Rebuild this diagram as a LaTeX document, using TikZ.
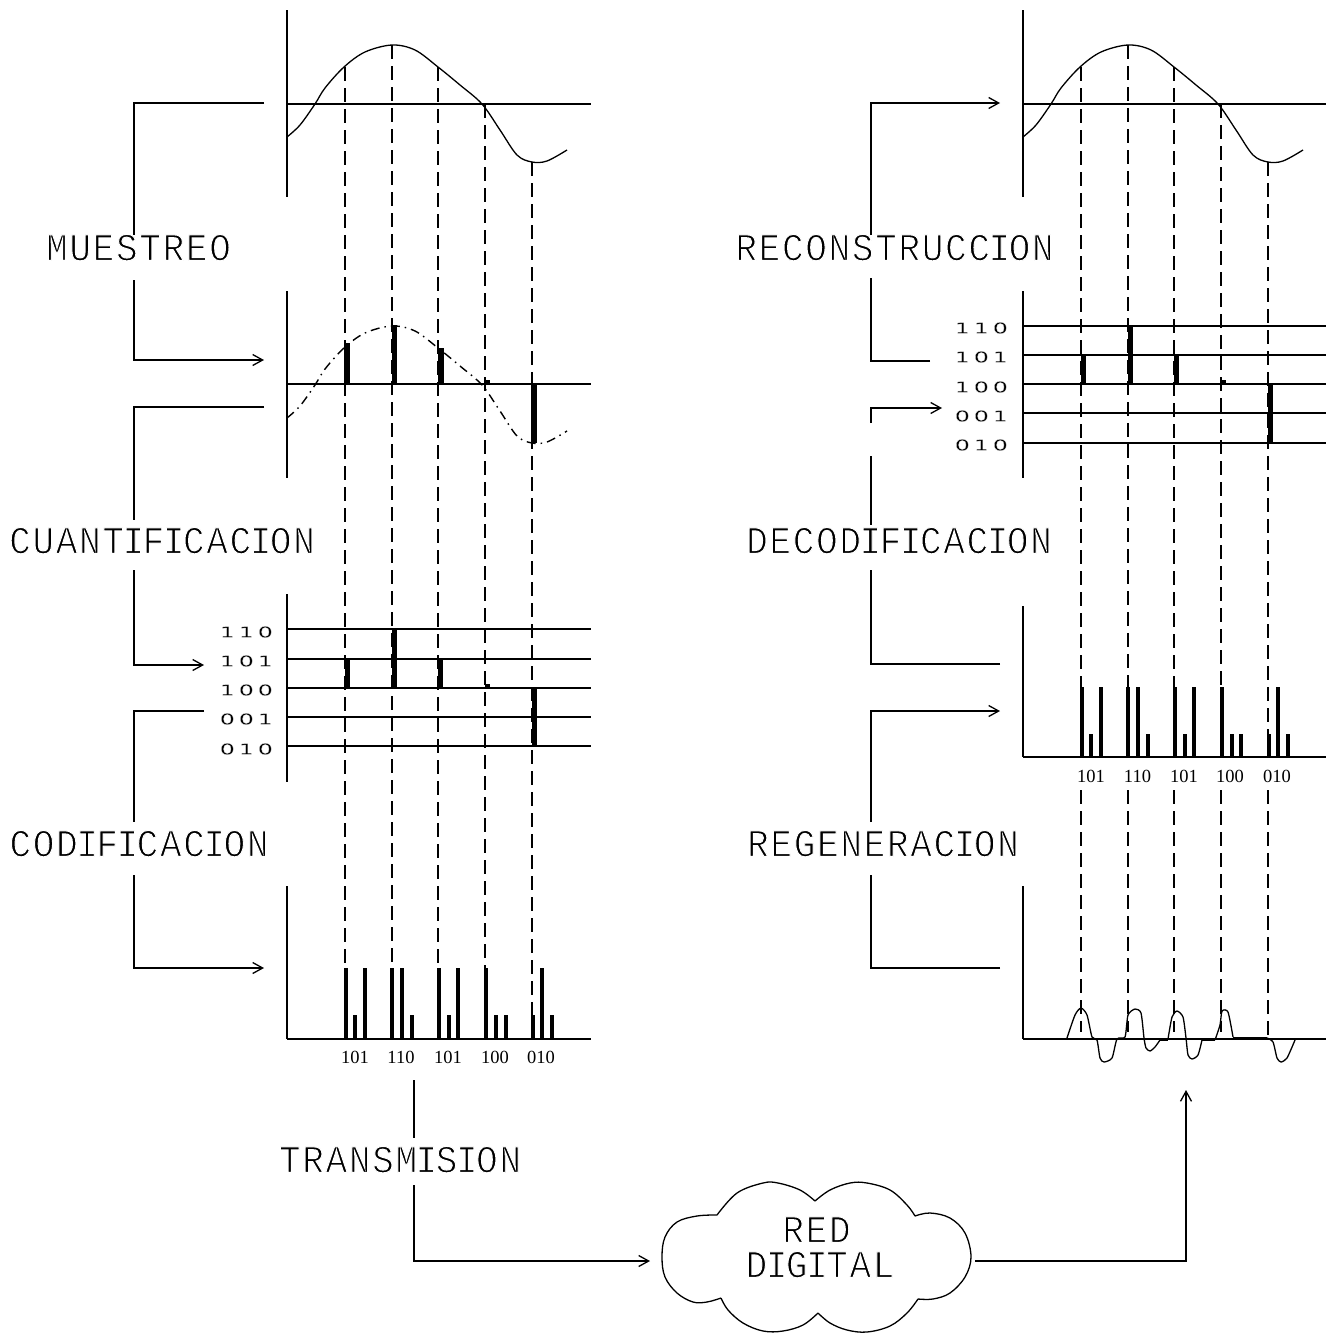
\documentclass[tikz,border=0pt]{standalone}
\usepackage{fontspec}
\usepackage{graphicx}
\usetikzlibrary{arrows.meta}
\newfontfamily\cadfont{Liberation Mono}
\newfontfamily\binfont{DejaVu Sans}
\newfontfamily\smallfont{Liberation Serif}
% thin-stroke text: glyphs are filled, then trimmed by a white outline
\newcommand\thinon[1]{\special{pdf:code 2 Tr 1 1 1 RG #1 w}}
\def\capbox#1{\ifx#1I\makebox[17pt]{\scalebox{.92}[1]{\thinon{1.05}#1}}\else\makebox[23.3pt]{\scalebox{.92}[1]{\thinon{1.05}#1}}\fi}
\def\cadloop#1{\ifx#1\relax\else\capbox{#1}\expandafter\cadloop\fi}
\newcommand\cadtext[1]{\cadloop#1\relax}
\def\digbox#1{\makebox[19pt]{\scalebox{1.6}[1]{\thinon{.2}#1}}}
\def\digloop#1{\ifx#1\relax\else\digbox{#1}\expandafter\digloop\fi}
\newcommand\bintext[1]{\digloop#1\relax}
\tikzset{
  lab/.style={inner sep=0pt,text height=26pt,text depth=0pt,font=\cadfont\fontsize{39}{39}\selectfont},
  binlab/.style={inner sep=0pt,anchor=east,font=\binfont\fontsize{15}{15}\selectfont},
  small/.style={inner sep=0pt,font=\smallfont\fontsize{18.5}{18.5}\selectfont},
  axis/.style={line width=1.7pt},
  conn/.style={line width=1.5pt},
  arr/.style={line width=1.5pt,-{Straight Barb[length=10pt,width=11pt,line width=1.3pt]}},
  curve/.style={line width=1.3pt},
  dotcurve/.style={line width=1.4pt,dash pattern=on 9pt off 5pt on 1.5pt off 5pt},
  guide/.style={line width=1.4pt,dash pattern=on 14pt off 7pt},
  bar/.style={fill=black,draw=none},
}
\begin{document}
\begin{tikzpicture}[x=1pt,y=-1pt]
\useasboundingbox (0,0) rectangle (1326,1333);
\fill[white] (0,0) rectangle (1326,1333);
% sine waves
\def\sinepts#1#2{plot[smooth,tension=.55] coordinates {(287+#1,137+#2)(300+#1,125+#2)(315+#1,104+#2)(325+#1,88+#2)(344+#1,67+#2)(365+#1,52+#2)(392+#1,45+#2)(415+#1,50+#2)(438+#1,67+#2)(460+#1,85+#2)(482+#1,104+#2)(500+#1,130+#2)(517+#1,155+#2)(532+#1,162+#2)(547+#1,161+#2)(567+#1,150+#2)}}
% LEFT COLUMN ------------------------------------------------
\draw[axis] (286.7,10) -- (286.7,197);
\draw[axis] (286.7,104) -- (591,104);
\draw[curve] \sinepts{0}{0};
\draw[axis] (286.7,291) -- (286.7,478);
\draw[axis] (286.7,384) -- (591,384);
\draw[dotcurve] \sinepts{0}{281};
\fill[bar] (344,343) rectangle (349.5,384);
\fill[bar] (391.5,325) rectangle (396.5,384);
\fill[bar] (438,348) rectangle (443.5,384);
\fill[bar] (485,380) rectangle (490,384);
\fill[bar] (531,384) rectangle (536.5,443);
\draw[axis] (286.7,594) -- (286.7,782);
\foreach \y in {629,659,688,717,746} \draw[axis] (286.7,\y) -- (591,\y);
\fill[bar] (344.5,659) rectangle (349.5,688);
\fill[bar] (391.5,629) rectangle (396.5,688);
\fill[bar] (438,659) rectangle (443,688);
\fill[bar] (485,684) rectangle (490,688);
\fill[bar] (531.5,688) rectangle (536.5,746);
\node[binlab] (l110) at (275,632) {\bintext{110}};
\node[binlab] (l101) at (275,661) {\bintext{101}};
\node[binlab] (l100) at (275,690) {\bintext{100}};
\node[binlab] (l001) at (275,719) {\bintext{001}};
\node[binlab] (l010) at (275,749) {\bintext{010}};
\draw[axis] (286.7,886) -- (286.7,1039);
\draw[axis] (286.7,1039) -- (591,1039);
\foreach \x/\t in {346/968,355/1015,365/968,392/968,402/968,412/1015,439/968,449/1015,458/968,486/968,496/1015,506/1015,533/1015,542/968,552/1015}
  \fill[bar] (\x-2,\t) rectangle (\x+2,1039);
\node[small] (a1) at (355,1057) {101};
\node[small] (a2) at (401,1057) {110};
\node[small] (a3) at (448,1057) {101};
\node[small] (a4) at (495,1057) {100};
\node[small] (a5) at (541,1057) {010};
% dashed guides, left
\draw[guide] (345,67) -- (345,968);
\draw[guide] (392,45) -- (392,968);
\draw[guide] (438,67) -- (438,968);
\draw[guide] (485,104) -- (485,968);
\draw[guide] (532,162) -- (532,1015);
% RIGHT COLUMN ------------------------------------------------
\draw[axis] (1022.7,10) -- (1022.7,197);
\draw[axis] (1022.7,104) -- (1326,104);
\draw[curve] \sinepts{736}{0};
\draw[axis] (1022.7,291) -- (1022.7,478);
\foreach \y in {326,355,384,413,443} \draw[axis] (1022.7,\y) -- (1326,\y);
\fill[bar] (1081,355) rectangle (1086,384);
\fill[bar] (1128,326) rectangle (1133,384);
\fill[bar] (1174,355) rectangle (1179,384);
\fill[bar] (1221,380) rectangle (1226,384);
\fill[bar] (1268,384) rectangle (1273,443);
\node[binlab] (r110) at (1010,328) {\bintext{110}};
\node[binlab] (r101) at (1010,357) {\bintext{101}};
\node[binlab] (r100) at (1010,387) {\bintext{100}};
\node[binlab] (r001) at (1010,416) {\bintext{001}};
\node[binlab] (r010) at (1010,445) {\bintext{010}};
\draw[axis] (1022.7,606) -- (1022.7,757);
\draw[axis] (1022.7,757) -- (1326,757);
\foreach \x/\t in {1082/687,1091/734,1101/687,1128/687,1138/687,1148/734,1175/687,1185/734,1194/687,1222/687,1232/734,1241/734,1269/734,1278/687,1288/734}
  \fill[bar] (\x-2,\t) rectangle (\x+2,757);
\node[small] (b1) at (1091,776) {101};
\node[small] (b2) at (1137.5,776) {110};
\node[small] (b3) at (1184,776) {101};
\node[small] (b4) at (1230,776) {100};
\node[small] (b5) at (1277,776) {010};
\draw[axis] (1022.7,886) -- (1022.7,1039);
\draw[axis] (1022.7,1039) -- (1326,1039);
% regenerated pulses
\draw[curve] plot[smooth,tension=.4] coordinates {(1067,1038)(1075,1015)(1081,1008)(1087,1015)(1092,1037)(1097,1040)(1100,1058)(1104,1062)(1112,1058)(1117,1039)(1125,1037)(1128,1015)(1135,1009)(1141,1013)(1144,1038)(1146,1048)(1150,1051)(1155,1047)(1160,1040)};
\draw[curve] plot[smooth,tension=.4] coordinates {(1168,1039)(1172,1017)(1177,1011)(1183,1017)(1186,1038)(1188,1055)(1192,1059)(1198,1055)(1202,1040)};
\draw[curve] plot[smooth,tension=.4] coordinates {(1215,1040)(1220,1025)(1222,1011)(1228,1012)(1233,1037)};
\draw[curve] plot[smooth,tension=.4] coordinates {(1267,1038)(1273,1042)(1277,1058)(1281,1062)(1287,1058)(1295,1040)};
\draw[line width=2.6pt] (1160,1039.5) -- (1168,1039.5) (1202,1039.5) -- (1215,1039.5) (1233,1038.5) -- (1267,1038.5);
% dashed guides, right (broken around the code labels)
\foreach \x/\t/\e in {1081/67/687,1128/45/687,1174/67/687,1221/104/687,1268/162/734} \draw[guide] (\x,\t) -- (\x,\e);
\foreach \x/\e in {1081/1032,1128/1032,1174/1032,1221/1032,1268/1039} \draw[guide] (\x,790) -- (\x,\e);
% LABELS ------------------------------------------------------
\node[lab] (muestreo) at (138.5,247.5) {\cadtext{MUESTREO}};
\node[lab] (cuantif) at (162,540.5) {\cadtext{CUANTIFICACION}};
\node[lab] (codif) at (139,843.5) {\cadtext{CODIFICACION}};
\node[lab] (transm) at (400,1159.5) {\cadtext{TRANSMISION}};
\node[lab] (reconst) at (894.5,247.5) {\cadtext{RECONSTRUCCION}};
\node[lab] (decod) at (899,540.5) {\cadtext{DECODIFICACION}};
\node[lab] (regen) at (883,843.5) {\cadtext{REGENERACION}};
\node[lab] (red) at (816.5,1229.5) {\cadtext{RED}};
\node[lab] (digital) at (820,1264.5) {\cadtext{DIGITAL}};
% cloud
\draw[curve,line join=round]
  plot[smooth,tension=.6] coordinates {(717,1215)(737,1193)(763,1183)(778,1183)(800,1190)(815,1201)}
  plot[smooth,tension=.6] coordinates {(815,1201)(830,1190)(850,1183)(867,1183)(890,1190)(907,1205)(915,1216)}
  plot[smooth,tension=.6] coordinates {(915,1216)(930,1213)(950,1218)(965,1233)(971,1257)(965,1277)(950,1293)(933,1299)(918,1299)}
  plot[smooth,tension=.6] coordinates {(918,1299)(907,1313)(890,1326)(867,1332)(847,1330)(830,1323)(818,1313)}
  plot[smooth,tension=.6] coordinates {(818,1313)(803,1325)(783,1331)(763,1331)(743,1323)(728,1310)(721,1298)}
  plot[smooth,tension=.6] coordinates {(721,1298)(707,1302)(693,1302)(677,1293)(665,1277)(662,1257)(665,1237)(677,1222)(697,1216)(717,1215)};
% CONNECTORS --------------------------------------------------
\coordinate (c1a) at (264,103); \coordinate (c1b) at (134,235);
\coordinate (c2a) at (134,280); \coordinate (c2b) at (264,360);
\coordinate (c3a) at (264,407); \coordinate (c3b) at (134,520);
\coordinate (c4a) at (134,570); \coordinate (c4b) at (204,665);
\coordinate (c5a) at (204,711); \coordinate (c5b) at (134,822);
\coordinate (c6a) at (134,875); \coordinate (c6b) at (264,968);
\coordinate (c7a) at (414,1080); \coordinate (c7b) at (414,1138);
\coordinate (c8a) at (414,1185); \coordinate (c8b) at (650,1261);
\coordinate (c9a) at (975,1261); \coordinate (c9b) at (1186,1090);
\coordinate (r1a) at (1000,968); \coordinate (r1b) at (871,875);
\coordinate (r2a) at (871,822); \coordinate (r2b) at (1000,711);
\coordinate (r3a) at (1000,664); \coordinate (r3b) at (871,570);
\coordinate (r4a) at (871,456); \coordinate (r4b) at (871,525);
\coordinate (r5a) at (871,423); \coordinate (r5b) at (942,408);
\coordinate (r6a) at (930,361); \coordinate (r6b) at (871,278);
\coordinate (r7a) at (871,235); \coordinate (r7b) at (1000,103);
\draw[conn] (c1a) -| (c1b);
\draw[arr] (c2a) |- (c2b);
\draw[conn] (c3a) -| (c3b);
\draw[arr] (c4a) |- (c4b);
\draw[conn] (c5a) -| (c5b);
\draw[arr] (c6a) |- (c6b);
\draw[conn] (c7a) -- (c7b);
\draw[arr] (c8a) |- (c8b);
\draw[arr] (c9a) -| (c9b);
\draw[conn] (r1a) -| (r1b);
\draw[arr] (r2a) |- (r2b);
\draw[conn] (r3a) -| (r3b);
\draw[conn] (r4a) -- (r4b);
\draw[arr] (r5a) |- (r5b);
\draw[conn] (r6a) -| (r6b);
\draw[arr] (r7a) |- (r7b);
\end{tikzpicture}
\end{document}
